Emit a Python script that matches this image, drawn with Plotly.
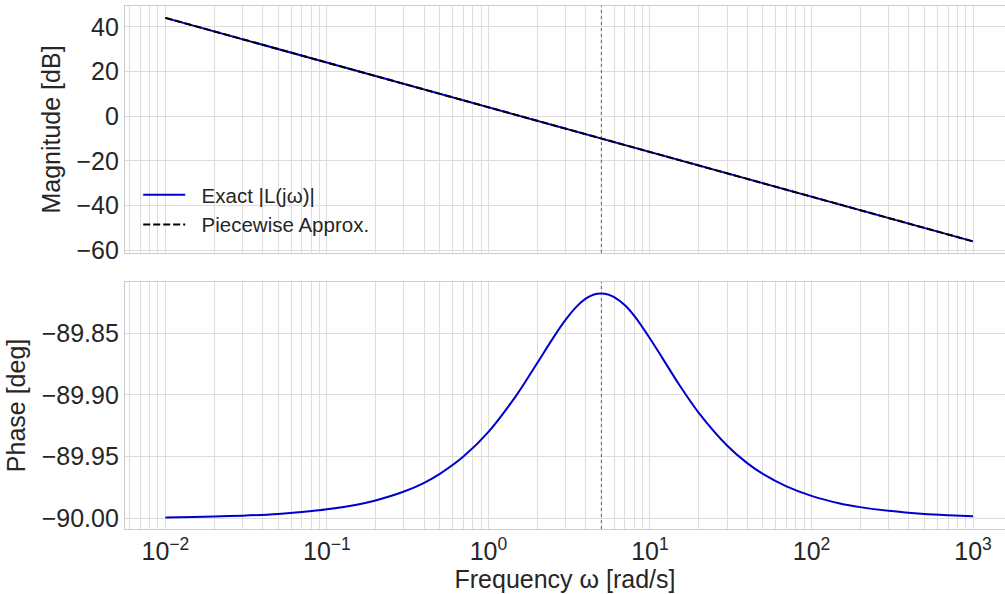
import plotly.graph_objects as go
from plotly.subplots import make_subplots

# ---- data ----
mag_freq = [0.01, 0.1, 1, 10, 100, 1000]
mag_exact_db = [44.0, 24.0, 4.0, -16.0, -36.0, -56.0]
mag_approx_db = [44.0, 24.0, 4.0, -16.0, -36.0, -56.0]

phase_freq = [0.01, 0.015, 0.02, 0.03, 0.05, 0.07, 0.1, 0.15, 0.2, 0.3, 0.4, 0.5,
              0.7, 1.0, 1.5, 2.0, 2.5, 3.0, 3.5, 4.0, 4.5, 5.0, 5.5, 6.0, 7.0,
              8.0, 10.0, 12.0, 15.0, 20.0, 30.0, 40.0, 50.0, 70.0, 100.0, 150.0,
              200.0, 300.0, 500.0, 700.0, 1000.0]
phase_deg = [-89.9993, -89.9989, -89.9985, -89.9978, -89.9964, -89.9949, -89.9927, -89.9891,
             -89.9855, -89.9783, -89.9712, -89.9640, -89.9500, -89.9300, -89.8998, -89.8745,
             -89.8545, -89.8394, -89.8288, -89.8222, -89.8188, -89.8180, -89.8188, -89.8210,
             -89.8276, -89.8362, -89.8544, -89.8707, -89.8908, -89.9144, -89.9410, -89.9553,
             -89.9640, -89.9741, -89.9818, -89.9879, -89.9909, -89.9939, -89.9964, -89.9974,
             -89.9982]

corner_freq = 5.0

legend_names = ["Exact |L(jω)|", "Piecewise Approx."]

x_tickvals = [0.01, 0.1, 1, 10, 100, 1000]
x_ticktext = ["10<sup>−2</sup>", "10<sup>−1</sup>", "10<sup>0</sup>",
              "10<sup>1</sup>", "10<sup>2</sup>", "10<sup>3</sup>"]
x_minor_vals = [k * 10.0 ** d for d in range(-3, 4) for k in range(2, 10)]

FONT = "Liberation Sans, Arial, sans-serif"
GRID = "#dddddd"
FRAME = "#cccccc"
TXT = "#262626"
PAD = "\u00a0\u00a0"

fig = make_subplots(rows=2, cols=1, shared_xaxes=True, vertical_spacing=0.0554)

fig.add_trace(go.Scatter(x=mag_freq, y=mag_exact_db, mode="lines", name=PAD + legend_names[0],
                         line=dict(color="#0000cc", width=2)), row=1, col=1)
fig.add_trace(go.Scatter(x=mag_freq, y=mag_approx_db, mode="lines", name=PAD + legend_names[1],
                         line=dict(color="black", width=2, dash="7px,3px")), row=1, col=1)
fig.add_trace(go.Scatter(x=phase_freq, y=phase_deg, mode="lines", showlegend=False,
                         line=dict(color="#0000cc", width=2, shape="spline", smoothing=0.8)),
              row=2, col=1)

for r in (1, 2):
    fig.add_vline(x=corner_freq, line=dict(color="#444444", width=1, dash="dot"),
                  opacity=0.8, row=r, col=1)

xcommon = dict(type="log", range=[-2.25, 3.198], tickmode="array", tickvals=x_tickvals,
               ticktext=x_ticktext, showgrid=True, gridcolor=GRID,
               gridwidth=1, showline=True, linecolor=FRAME, linewidth=1.3, mirror=True,
               zeroline=False, ticks="",
               minor=dict(showgrid=True, gridcolor=GRID, gridwidth=1, ticks="",
                          tickmode="array", tickvals=x_minor_vals),
               tickfont=dict(family=FONT, size=25, color=TXT))
fig.update_xaxes(**xcommon)
fig.update_xaxes(showticklabels=False, row=1, col=1)
fig.update_xaxes(title=dict(text="Frequency ω [rad/s]", font=dict(family=FONT, size=25, color=TXT),
                            standoff=3), row=2, col=1)

ycommon = dict(showgrid=True, gridcolor=GRID, gridwidth=1, showline=True, linecolor=FRAME,
               linewidth=1.3, mirror=True, zeroline=False, ticks="",
               tickfont=dict(family=FONT, size=25, color=TXT))
fig.update_yaxes(**ycommon)
fig.update_yaxes(range=[-61.2, 49.3], dtick=20,
                 title=dict(text="Magnitude [dB]", font=dict(family=FONT, size=25, color=TXT),
                            standoff=8), row=1, col=1)
fig.update_yaxes(range=[-90.0086, -89.8087], tickvals=[-90.0, -89.95, -89.90, -89.85],
                 tickformat=".2f",
                 title=dict(text="Phase [deg]", font=dict(family=FONT, size=25, color=TXT),
                            standoff=8), row=2, col=1)

fig.update_layout(
    width=1005, height=594,
    margin=dict(l=125, r=0, t=6, b=65),
    plot_bgcolor="white", paper_bgcolor="white",
    font=dict(family=FONT, color=TXT),
    legend=dict(x=0.015, y=0.677, xanchor="left", yanchor="top",
                font=dict(family=FONT, size=20.5, color=TXT),
                itemwidth=42,
                bgcolor="rgba(255,255,255,0)", borderwidth=0),
)

fig.write_html("out.html")
